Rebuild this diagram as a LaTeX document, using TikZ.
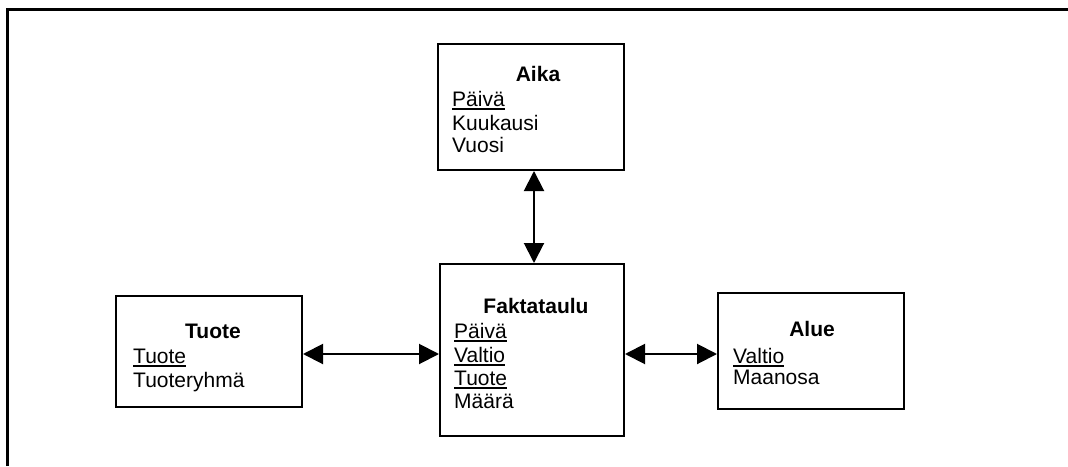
\documentclass[tikz,border=0pt]{standalone}
\usepackage{fontspec}
\setmainfont{Liberation Sans}
\usetikzlibrary{arrows.meta}
% key attribute: text with a thick rule under it
\newcommand\keyattr[1]{\setbox0\hbox{#1}\rlap{\rule[-4.3pt]{\wd0}{2.4pt}}\box0}
\begin{document}
\begin{tikzpicture}[x=1pt,y=-1pt,
  every node/.style={font=\fontsize{21}{24}\selectfont},
  entity/.style={draw,line width=2pt,inner sep=0pt},
  title/.style={anchor=base,font=\fontsize{21}{24}\selectfont\bfseries},
  attr/.style={anchor=base west,inner sep=0pt},
  link/.style={line width=2pt,{Triangle[length=20pt,width=20pt]}-{Triangle[length=20pt,width=20pt]}}]
\useasboundingbox (0,0) rectangle (1068,466);
% page frame (top and left edges)
\draw[line width=3pt] (7.5,466) -- (7.5,9.5) -- (1068,9.5);

% entity boxes
\node[entity,minimum width=186pt,minimum height=126pt] (aika)  at (531,107) {};
\node[entity,minimum width=184pt,minimum height=172pt] (fakta) at (532,350) {};
\node[entity,minimum width=186pt,minimum height=111pt] (tuote) at (209,351.5) {};
\node[entity,minimum width=186pt,minimum height=116pt] (alue)  at (811,351) {};

% Aika
\node[title] (aikaT) at (538,81) {Aika};
\node[attr] (aika1) at (452,106) {\keyattr{Päivä}};
\node[attr] (aika2) at (452,130) {Kuukausi};
\node[attr] (aika3) at (452,152) {Vuosi};

% Faktataulu
\node[title] (faktaT) at (536,313) {Faktataulu};
\node[attr] (fakta1) at (454,338) {\keyattr{Päivä}};
\node[attr] (fakta2) at (454,362) {\keyattr{Valtio}};
\node[attr] (fakta3) at (454,385) {\keyattr{Tuote}};
\node[attr] (fakta4) at (454,408) {Määrä};

% Tuote
\node[title] (tuoteT) at (213,338) {Tuote};
\node[attr] (tuote1) at (133,363) {\keyattr{Tuote}};
\node[attr] (tuote2) at (133,387) {Tuoteryhmä};

% Alue
\node[title] (alueT) at (812,336) {Alue};
\node[attr] (alue1) at (733,363) {\keyattr{Valtio}};
\node[attr] (alue2) at (733,384) {Maanosa};

% relationships
\coordinate (row) at (0,354);
\coordinate (col) at (534,0);
\draw[link] (aika.south -| col) -- (fakta.north -| col);
\draw[link] (tuote.east |- row) -- (fakta.west |- row);
\draw[link] (fakta.east |- row) -- (alue.west |- row);
\end{tikzpicture}
\end{document}
